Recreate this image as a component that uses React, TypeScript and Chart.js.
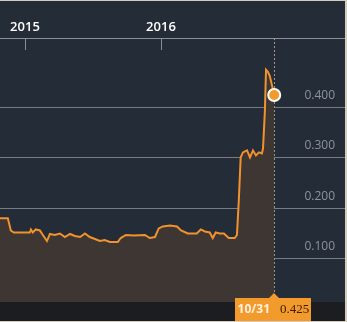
import React, { useEffect, useRef } from "react";
import { Chart, registerables } from "chart.js";

Chart.register(...registerables);

// ---- data ----
const dates = [
  "2014-10-26", "2014-11-16", "2014-11-24", "2014-12-02", "2015-01-14", "2015-01-17",
  "2015-01-22", "2015-01-30", "2015-02-10", "2015-02-18", "2015-03-01", "2015-03-09",
  "2015-03-22", "2015-04-05", "2015-04-18", "2015-05-02", "2015-05-15", "2015-05-29",
  "2015-06-11", "2015-06-24", "2015-07-08", "2015-07-21", "2015-08-03", "2015-08-17",
  "2015-09-07", "2015-09-15", "2015-09-29", "2015-10-20", "2015-11-19", "2015-12-02",
  "2015-12-16", "2015-12-26", "2016-01-06", "2016-01-25", "2016-02-13", "2016-02-24",
  "2016-03-13", "2016-04-06", "2016-04-17", "2016-04-28", "2016-05-11", "2016-05-19",
  "2016-05-27", "2016-06-07", "2016-06-18", "2016-07-01", "2016-07-17", "2016-07-23",
  "2016-07-28", "2016-08-02", "2016-08-08", "2016-08-19", "2016-08-27", "2016-09-04",
  "2016-09-12", "2016-09-20", "2016-09-28", "2016-10-01", "2016-10-06", "2016-10-09",
  "2016-10-14", "2016-10-19", "2016-10-25", "2016-10-31",
];
const prices = [
  0.180, 0.180, 0.156, 0.152, 0.152, 0.158,
  0.152, 0.158, 0.156, 0.147, 0.135, 0.149,
  0.147, 0.150, 0.143, 0.149, 0.145, 0.143,
  0.150, 0.143, 0.139, 0.135, 0.137, 0.133,
  0.133, 0.141, 0.147, 0.146, 0.147, 0.141,
  0.143, 0.160, 0.164, 0.166, 0.164, 0.156,
  0.150, 0.150, 0.158, 0.154, 0.152, 0.141,
  0.152, 0.150, 0.150, 0.141, 0.141, 0.147,
  0.216, 0.301, 0.311, 0.315, 0.301, 0.315,
  0.305, 0.311, 0.309, 0.319, 0.394, 0.475,
  0.471, 0.463, 0.444, 0.425,
];
const yearTickDates = ["2015-01-01", "2016-01-01"];
const yearTickLabels = ["2015", "2016"];
const yTickValues = [0.1, 0.2, 0.3, 0.4];
const axisStartDate = "2014-10-26";
const axisEndDate = "2017-05-09";
const lastDateLabel = "10/31";

const BASE = Date.UTC(2014, 9, 31);
function dayOf(s: string): number {
  const [y, m, d] = s.split("-").map(Number);
  return (Date.UTC(y, m - 1, d) - BASE) / 86400000;
}

export default function App() {
  const ref = useRef<HTMLCanvasElement | null>(null);

  useEffect(() => {
    document.body.style.margin = "0";
    const canvas = ref.current;
    if (!canvas) return;
    const points = dates.map((d, i) => ({ x: dayOf(d), y: prices[i] }));
    const lastIdx = points.length - 1;
    const lastDay = points[lastIdx].x;
    const lastVal = prices[lastIdx];

    const decor = {
      id: "decor",
      beforeDraw(chart: any) {
        const { ctx, chartArea, width, height } = chart;
        ctx.save();
        ctx.fillStyle = "#242c37";
        ctx.fillRect(0, 0, width, height);
        ctx.fillStyle = "#1c1d20";
        ctx.fillRect(0, chartArea.bottom, width, height - chartArea.bottom);
        ctx.restore();
      },
      beforeDatasetsDraw(chart: any) {
        const { ctx, chartArea } = chart;
        const xs = chart.scales.x;
        ctx.save();
        ctx.strokeStyle = "#8a9099";
        ctx.lineWidth = 1;
        yearTickDates.forEach((t) => {
          const px = Math.round(xs.getPixelForValue(dayOf(t))) + 0.5;
          ctx.beginPath();
          ctx.moveTo(px, chartArea.top);
          ctx.lineTo(px, chartArea.top + 12);
          ctx.stroke();
        });
        const lx = Math.round(xs.getPixelForValue(lastDay)) + 0.5;
        ctx.setLineDash([2, 2]);
        ctx.strokeStyle = "#a39684";
        ctx.beginPath();
        ctx.moveTo(lx, chartArea.top);
        ctx.lineTo(lx, chartArea.bottom - 6);
        ctx.stroke();
        ctx.restore();
      },
      afterDraw(chart: any) {
        const { ctx, chartArea, height } = chart;
        const xs = chart.scales.x;
        const lx = Math.round(xs.getPixelForValue(lastDay));
        const top = chartArea.bottom - 4;
        ctx.save();
        ctx.fillStyle = "#f39a2d";
        ctx.beginPath();
        ctx.moveTo(lx - 39, top);
        ctx.lineTo(lx - 5, top);
        ctx.lineTo(lx, top - 5);
        ctx.lineTo(lx + 5, top);
        ctx.lineTo(lx + 37, top);
        ctx.lineTo(lx + 37, height);
        ctx.lineTo(lx - 39, height);
        ctx.closePath();
        ctx.fill();
        ctx.textBaseline = "middle";
        ctx.font = "bold 12px 'Open Sans'";
        ctx.fillStyle = "#fff0dc";
        ctx.textAlign = "right";
        ctx.fillText(lastDateLabel, lx - 4, top + 12);
        ctx.font = "13px 'Liberation Serif'";
        ctx.fillStyle = "#3d2005";
        ctx.textAlign = "left";
        ctx.fillText(lastVal.toFixed(3), lx + 6, top + 12);
        ctx.restore();
      },
    };

    const chart = new Chart(canvas, {
      type: "line",
      data: {
        datasets: [
          {
            data: points,
            borderColor: "#f2922e",
            borderWidth: 2,
            backgroundColor: "#3e3632",
            fill: "start",
            tension: 0,
            pointRadius: (c: any) => (c.dataIndex === lastIdx ? 6 : 0),
            pointBackgroundColor: "#f39a2d",
            pointBorderColor: "#ffffff",
            pointBorderWidth: 2,
            pointHoverRadius: 0,
          },
        ],
      },
      options: {
        animation: false,
        responsive: false,
        devicePixelRatio: 1,
        layout: { autoPadding: false, padding: { left: 0, right: 0, top: 0, bottom: 19 } },
        plugins: { legend: { display: false }, tooltip: { enabled: false }, title: { display: false } },
        events: [],
        scales: {
          x: {
            type: "linear",
            position: "top",
            min: dayOf(axisStartDate),
            max: dayOf(axisEndDate),
            afterFit: (s: any) => { s.height = 37; },
            afterBuildTicks: (s: any) => {
              s.ticks = yearTickDates.map((d) => ({ value: dayOf(d) }));
            },
            ticks: {
              autoSkip: false,
              maxRotation: 0,
              padding: 3,
              color: "#ffffff",
              font: { family: "'Open Sans'", size: 13, weight: "600" },
              callback: (v: any) => {
                const i = yearTickDates.findIndex((d) => dayOf(d) === v);
                return i >= 0 ? yearTickLabels[i] : "";
              },
            },
            grid: { display: true, drawOnChartArea: false, drawTicks: false },
            border: { display: true, color: "#8a9099", width: 1 },
          },
          y: {
            type: "linear",
            position: "right",
            min: 0.014,
            max: 0.538,
            afterFit: (s: any) => { s.width = 0; },
            afterBuildTicks: (s: any) => {
              s.ticks = yTickValues.map((v) => ({ value: v }));
            },
            ticks: {
              mirror: true,
              padding: -10,
              labelOffset: -12,
              color: "#8c939c",
              font: { family: "'Open Sans'", size: 12 },
              callback: (v: any) => Number(v).toFixed(3),
            },
            grid: { color: "rgba(185,190,196,0.55)", lineWidth: 1, drawTicks: false },
            border: { display: false },
          },
        },
      },
      plugins: [decor],
    } as any);
    return () => chart.destroy();
  }, []);

  return (
    <div
      style={{
        position: "relative",
        width: 347,
        height: 322,
        boxSizing: "border-box",
        borderTop: "1px solid #d3ccbe",
        borderRight: "2px solid #d3ccbe",
        borderBottom: "1px solid #d3ccbe",
        background: "#242c37",
      }}
    >
      <canvas ref={ref} width={345} height={320} style={{ display: "block" }} />
    </div>
  );
}
